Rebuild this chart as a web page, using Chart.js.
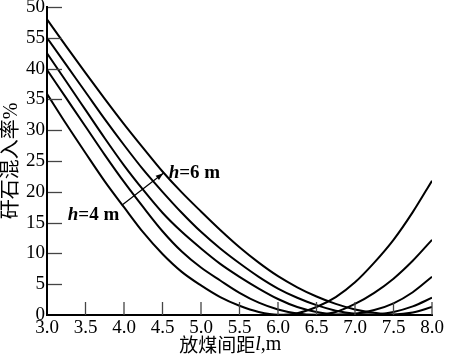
<!DOCTYPE html>
<html>
<head>
<meta charset="utf-8">
<script src="https://cdn.jsdelivr.net/npm/chart.js@4.4.0/dist/chart.umd.min.js"></script>
<style>
  html, body { margin: 0; padding: 0; background: #fff; }
  #wrap { width: 450px; height: 362px; }
</style>
</head>
<body>
<div id="wrap"><canvas id="c"></canvas></div>
<script>
// spacing l (m)
const spacing = [3.0, 3.25, 3.5, 3.75, 4.0, 4.25, 4.5, 4.75, 5.0, 5.25, 5.5, 5.75,
                 6.0, 6.25, 6.5, 6.75, 7.0, 7.25, 7.5, 7.75, 8.0];

// gangue rate (%) for each curve, h=4 m ... h=6 m
const rateH4 = [35.9, 31.0, 26.3, 21.7, 17.5, 13.4, 9.9, 7.0, 4.8, 2.9, 1.5, 0.5,
                0.05, 0.3, 1.3, 2.9, 5.3, 8.5, 12.2, 16.7, 21.8];
const rateH45 = [39.8, 35.2, 30.6, 26.0, 21.6, 17.5, 13.6, 10.3, 7.7, 5.6, 3.6, 2.0,
                 0.9, 0.25, 0.05, 0.5, 1.8, 3.6, 5.9, 8.8, 12.2];
const rateH5 = [42.5, 37.9, 33.3, 28.7, 24.3, 20.3, 16.6, 13.5, 10.8, 8.3, 6.2, 4.3,
                2.6, 1.3, 0.5, 0.1, 0.2, 0.8, 1.9, 3.7, 6.2];
const rateH55 = [45.0, 40.6, 36.2, 31.8, 27.6, 23.6, 20.0, 16.6, 13.5, 10.8, 8.4, 6.2,
                 4.3, 2.8, 1.6, 0.7, 0.2, 0.1, 0.5, 1.4, 2.8];
const rateH6 = [48.0, 43.6, 39.3, 35.1, 31.0, 27.1, 23.3, 19.9, 16.8, 13.8, 11.0, 8.5,
                6.3, 4.5, 3.0, 1.8, 0.9, 0.35, 0.1, 0.4, 1.3];

const yTickValues = [0, 5, 10, 15, 20, 25, 30, 35, 40, 45, 50];
const yTickLabels = ['0', '5', '10', '15', '20', '25', '30', '35', '40', '55', '50'];
const xTickValues = [3.5, 4.0, 4.5, 5.0, 5.5, 6.0, 6.5, 7.0, 7.5, 8.0];

const serif = "'Liberation Serif', 'Times New Roman', serif";
const cjk = "'Noto Sans CJK SC', sans-serif";

// annotation anchors in data units
const labelH4 = { x: 3.27, y: 16.2 };
const labelH6 = { x: 4.58, y: 23.0 };
const arrowFrom = { x: 3.98, y: 17.9 };
const arrowTo = { x: 4.51, y: 23.0 };
const xTitleAt = 5.38;

const series = [rateH4, rateH45, rateH5, rateH55, rateH6];

function drawParts(ctx, parts, x, y, center) {
  let w = 0;
  parts.forEach(p => { ctx.font = p[1]; w += ctx.measureText(p[0]).width; });
  let cx = center ? x - w / 2 : x;
  ctx.textBaseline = 'middle';
  ctx.textAlign = 'left';
  parts.forEach(p => {
    ctx.font = p[1];
    ctx.fillText(p[0], cx, y);
    cx += ctx.measureText(p[0]).width;
  });
}

const decor = {
  id: 'decor',
  afterDraw(chart) {
    const { ctx, chartArea: area, scales } = chart;
    const xs = scales.x, ys = scales.y;
    ctx.save();
    ctx.strokeStyle = '#444';
    ctx.lineWidth = 1.3;
    yTickValues.slice(1).forEach(v => {
      const py = Math.round(ys.getPixelForValue(v)) + 0.5;
      ctx.beginPath();
      ctx.moveTo(area.left + 1, py);
      ctx.lineTo(area.left + 15, py);
      ctx.stroke();
    });
    xTickValues.forEach(v => {
      const px = xs.getPixelForValue(v);
      ctx.beginPath();
      ctx.moveTo(px, area.bottom);
      ctx.lineTo(px, area.bottom - 13);
      ctx.stroke();
    });

    // arrow h=4 -> h=6
    const x0 = xs.getPixelForValue(arrowFrom.x), y0 = ys.getPixelForValue(arrowFrom.y);
    const x1 = xs.getPixelForValue(arrowTo.x), y1 = ys.getPixelForValue(arrowTo.y);
    ctx.strokeStyle = '#000';
    ctx.fillStyle = '#000';
    ctx.lineWidth = 1.2;
    ctx.beginPath();
    ctx.moveTo(x0, y0);
    ctx.lineTo(x1, y1);
    ctx.stroke();
    const ang = Math.atan2(y1 - y0, x1 - x0);
    ctx.beginPath();
    ctx.moveTo(x1, y1);
    ctx.lineTo(x1 - 8 * Math.cos(ang - 0.35), y1 - 8 * Math.sin(ang - 0.35));
    ctx.lineTo(x1 - 8 * Math.cos(ang + 0.35), y1 - 8 * Math.sin(ang + 0.35));
    ctx.closePath();
    ctx.fill();

    drawParts(ctx, [['h', 'italic bold 19px ' + serif], ['=4 m', 'bold 19px ' + serif]],
      xs.getPixelForValue(labelH4.x), ys.getPixelForValue(labelH4.y));
    drawParts(ctx, [['h', 'italic bold 19px ' + serif], ['=6 m', 'bold 19px ' + serif]],
      xs.getPixelForValue(labelH6.x), ys.getPixelForValue(labelH6.y));

    // x axis title
    drawParts(ctx, [['放煤间距', '19px ' + cjk], ['l', 'italic 20px ' + serif], [',m', '20px ' + serif]],
      xs.getPixelForValue(xTitleAt), 345, true);
    ctx.restore();
  }
};

Chart.defaults.color = '#000';

new Chart(document.getElementById('c'), {
  type: 'line',
  data: {
    datasets: series.map(s => ({
      data: s.map((v, i) => ({ x: spacing[i], y: v })),
      borderColor: '#000',
      borderWidth: 2,
      pointRadius: 0,
      fill: false,
      cubicInterpolationMode: 'monotone'
    }))
  },
  options: {
    responsive: true,
    maintainAspectRatio: false,
    animation: false,
    layout: { padding: { top: 7, right: 18, bottom: 0, left: 0 } },
    plugins: { legend: { display: false }, tooltip: { enabled: false } },
    scales: {
      x: {
        type: 'linear',
        min: 3, max: 8,
        grid: { display: false, drawTicks: false },
        border: { display: true, color: '#000', width: 2 },
        ticks: {
          stepSize: 0.5, autoSkip: false, maxRotation: 0, padding: 2,
          font: { family: serif, size: 19 },
          callback: v => v.toFixed(1)
        },
        afterFit: s => { s.height = 47; s.paddingLeft = 0; s.paddingRight = 0; }
      },
      y: {
        min: 0, max: 50,
        grid: { display: false, drawTicks: false },
        border: { display: true, color: '#000', width: 2 },
        afterBuildTicks: s => { s.ticks = yTickValues.map(v => ({ value: v })); },
        ticks: {
          padding: 2,
          font: { family: serif, size: 19 },
          callback: v => yTickLabels[yTickValues.indexOf(v)]
        },
        title: {
          display: true,
          text: '矸石混入率%',
          padding: 0,
          font: { family: "'Liberation Serif', 'Noto Sans CJK SC', serif", size: 20 }
        },
        afterFit: s => { s.width = 47; s.paddingTop = 0; s.paddingBottom = 0; }
      }
    }
  },
  plugins: [decor]
});
</script>
</body>
</html>
